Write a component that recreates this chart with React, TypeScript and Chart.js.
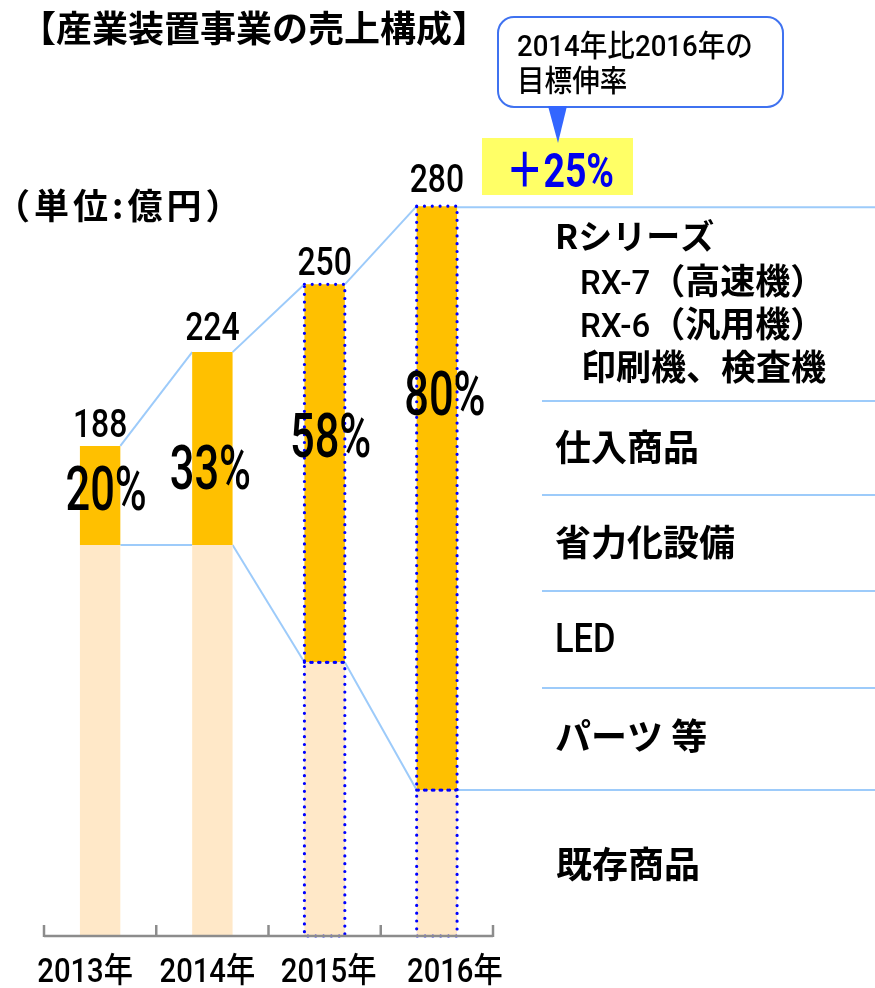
import React, { useEffect, useRef } from 'react';
import { Chart, registerables } from 'chart.js';

Chart.register(...registerables);

// ---- data ----
const categories = ['2013年', '2014年', '2015年', '2016年'];
const totals = [188, 224, 250, 280];
const existingProducts = [150, 150, 105, 56];
const newProducts = [38, 74, 145, 224];
const newShareLabels = ['20%', '33%', '58%', '80%'];
const highlightedYears = [2, 3];
const titleText = '【産業装置事業の売上構成】';
const unitText = '（単位:億円）';
const calloutLines = ['2014年比2016年の', '目標伸率'];
const growthText = '＋25%';
const seriesHeading = 'Rシリーズ';
const seriesModels = [
  ['RX-7', '（高速機）'],
  ['RX-6', '（汎用機）'],
];
const seriesOthers = '印刷機、検査機';
const otherSegments = ['仕入商品', '省力化設備', 'LED', 'パーツ 等'];
const existingSegment = '既存商品';

// ---- layout / style ----
const W = 875;
const H = 988;
const FONT = '"Noto Sans CJK JP", "Noto Sans", sans-serif';
const NUMFONT = 'Roboto, "Noto Sans CJK JP", sans-serif';
const ORANGE = '#FFC000';
const PEACH = '#FFE8C8';
const LINE_BLUE = '#9DCBFA';
const pctDx = [6, -2, 6, 8];
const pctDy = [42, 115, 150, 187];
const totDy = [-23, -26, -23, -28];
const xLabelDx = [-15, -5, 4, 18];

function txt(
  ctx: CanvasRenderingContext2D,
  s: string,
  x: number,
  cy: number,
  size: number,
  weight: number,
  color: string,
  align: CanvasTextAlign = 'left',
  sx = 1,
  family = FONT,
  ls = 0
) {
  ctx.save();
  ctx.font = `${weight} ${size}px ${family}`;
  (ctx as any).letterSpacing = `${ls}px`;
  ctx.fillStyle = color;
  ctx.textBaseline = 'alphabetic';
  ctx.textAlign = align;
  ctx.translate(x, cy + size * 0.36);
  ctx.scale(sx, 1);
  ctx.fillText(s, 0, 0);
  ctx.restore();
}

type Part = { s: string; size: number; weight: number; family: string };
function parts(ctx: CanvasRenderingContext2D, list: Part[], x: number, cy: number) {
  let cx = x;
  ctx.save();
  ctx.fillStyle = '#000';
  ctx.textBaseline = 'alphabetic';
  ctx.textAlign = 'left';
  list.forEach((p) => {
    ctx.font = `${p.weight} ${p.size}px ${p.family}`;
    ctx.fillText(p.s, cx, cy + 33 * 0.36);
    cx += ctx.measureText(p.s).width;
  });
  ctx.restore();
}

const decorPlugin = {
  id: 'decor',
  beforeDatasetsDraw(chart: any) {
    const ctx: CanvasRenderingContext2D = chart.ctx;
    const bottom = chart.getDatasetMeta(0).data;
    const top = chart.getDatasetMeta(1).data;
    ctx.save();
    ctx.strokeStyle = LINE_BLUE;
    ctx.lineWidth = 2;
    for (let i = 0; i < top.length - 1; i++) {
      const a = top[i], b = top[i + 1];
      ctx.beginPath();
      ctx.moveTo(a.x + a.width / 2, a.y);
      ctx.lineTo(b.x - b.width / 2, b.y);
      ctx.stroke();
      const c = bottom[i], d = bottom[i + 1];
      ctx.beginPath();
      ctx.moveTo(c.x + c.width / 2, c.y);
      ctx.lineTo(d.x - d.width / 2, d.y);
      ctx.stroke();
    }
    const lt = top[top.length - 1];
    const lb = bottom[bottom.length - 1];
    ctx.beginPath();
    ctx.moveTo(lt.x + lt.width / 2, lt.y + 1);
    ctx.lineTo(W, lt.y + 1);
    ctx.stroke();
    ctx.beginPath();
    ctx.moveTo(lb.x + lb.width / 2, lb.y);
    ctx.lineTo(W, lb.y);
    ctx.stroke();
    [401, 495, 591, 688].forEach((y) => {
      ctx.beginPath();
      ctx.moveTo(542, y);
      ctx.lineTo(W, y);
      ctx.stroke();
    });
    ctx.restore();
  },
  afterDatasetsDraw(chart: any) {
    const ctx: CanvasRenderingContext2D = chart.ctx;
    const area = chart.chartArea;
    const xs = chart.scales.x;
    const bottom = chart.getDatasetMeta(0).data;
    const top = chart.getDatasetMeta(1).data;

    // dotted borders
    ctx.save();
    ctx.strokeStyle = '#0000FF';
    ctx.lineWidth = 3.2;
    ctx.lineCap = 'round';
    ctx.setLineDash([0, 7.8]);
    highlightedYears.forEach((i) => {
      [bottom[i], top[i]].forEach((b: any) => {
        const x0 = b.x - b.width / 2;
        ctx.strokeRect(x0, b.y, b.width, b.base - b.y);
      });
    });
    ctx.restore();

    // axis line and ticks
    ctx.save();
    ctx.strokeStyle = '#8C8C8C';
    ctx.lineWidth = 2.5;
    ctx.beginPath();
    ctx.moveTo(area.left, area.bottom);
    ctx.lineTo(area.right, area.bottom);
    ctx.stroke();
    const step = (area.right - area.left) / categories.length;
    for (let i = 0; i <= categories.length; i++) {
      const x = i === categories.length ? xs.getPixelForValue(i - 1) + step / 2 : xs.getPixelForValue(i) - step / 2;
      ctx.beginPath();
      ctx.moveTo(x, area.bottom - 11);
      ctx.lineTo(x, area.bottom + 1);
      ctx.stroke();
    }
    ctx.restore();

    // category labels
    categories.forEach((c, i) => {
      txt(ctx, c, xs.getPixelForValue(i) + xLabelDx[i], 970, 34, 500, '#000', 'center', 0.86, NUMFONT);
    });

    // totals and shares
    top.forEach((b: any, i: number) => {
      txt(ctx, String(totals[i]), b.x, b.y + totDy[i], 38, 500, '#000', 'center', 0.84, NUMFONT);
      txt(ctx, newShareLabels[i], b.x + pctDx[i], b.y + pctDy[i], 62, 500, '#000', 'center', 0.7, NUMFONT);
    });

    // title & unit
    txt(ctx, titleText, 20, 29, 36, 700, '#000');
    txt(ctx, unitText, -5, 206, 35, 700, '#000', 'left', 1, FONT, 4);

    // callout
    ctx.save();
    ctx.fillStyle = '#FFFF66';
    ctx.fillRect(482, 138, 151, 57);
    ctx.fillStyle = '#FFFFFF';
    ctx.strokeStyle = '#3F72F0';
    ctx.lineWidth = 2;
    ctx.beginPath();
    ctx.roundRect(498, 17, 285, 90, 16);
    ctx.fill();
    ctx.stroke();
    ctx.fillStyle = '#3366FF';
    ctx.beginPath();
    ctx.moveTo(548, 106);
    ctx.lineTo(567, 106);
    ctx.lineTo(558, 143);
    ctx.closePath();
    ctx.fill();
    ctx.restore();
    txt(ctx, calloutLines[0], 517, 45, 30, 500, '#000', 'left', 0.92, NUMFONT);
    txt(ctx, calloutLines[1], 517, 80, 30, 500, '#000', 'left', 0.92, NUMFONT);
    txt(ctx, growthText, 560, 170, 48, 700, '#0000EE', 'center', 0.78, NUMFONT);

    // segment labels
    txt(ctx, seriesHeading, 555, 237, 34, 700, '#000');
    seriesModels.forEach((m, k) => {
      parts(
        ctx,
        [
          { s: m[0], size: 33, weight: 500, family: NUMFONT },
          { s: m[1], size: 35, weight: 700, family: FONT },
        ],
        580,
        282 + k * 43
      );
    });
    txt(ctx, seriesOthers, 581, 367, 35, 700, '#000');
    txt(ctx, otherSegments[0], 555, 448, 36, 700, '#000');
    txt(ctx, otherSegments[1], 555, 543, 36, 700, '#000');
    txt(ctx, otherSegments[2], 555, 638, 40, 500, '#000', 'left', 0.86, NUMFONT);
    txt(ctx, otherSegments[3], 555, 737, 36, 700, '#000');
    txt(ctx, existingSegment, 556, 865, 36, 700, '#000');
  },
};

export default function App() {
  const ref = useRef<HTMLCanvasElement | null>(null);
  useEffect(() => {
    if (!ref.current) return;
    const chart = new Chart(ref.current, {
      type: 'bar',
      data: {
        labels: categories,
        datasets: [
          { label: existingSegment, data: existingProducts, backgroundColor: PEACH, borderWidth: 0 },
          { label: seriesHeading, data: newProducts, backgroundColor: ORANGE, borderWidth: 0 },
        ],
      },
      options: {
        responsive: false,
        animation: false,
        devicePixelRatio: 1,
        datasets: { bar: { barPercentage: 0.36, categoryPercentage: 1 } },
        layout: { padding: { left: 44, right: W - 493, top: 154, bottom: H - 936 } },
        plugins: { legend: { display: false }, tooltip: { enabled: false }, title: { display: false } },
        scales: {
          x: { stacked: true, display: false, offset: true },
          y: { stacked: true, display: false, min: 0, max: 300 },
        },
      },
      plugins: [decorPlugin],
    });
    return () => chart.destroy();
  }, []);
  return (
    <div style={{ position: 'absolute', left: 0, top: 0, width: W, height: H, background: '#fff' }}>
      <canvas ref={ref} width={W} height={H} style={{ width: W, height: H, display: 'block' }} />
    </div>
  );
}
